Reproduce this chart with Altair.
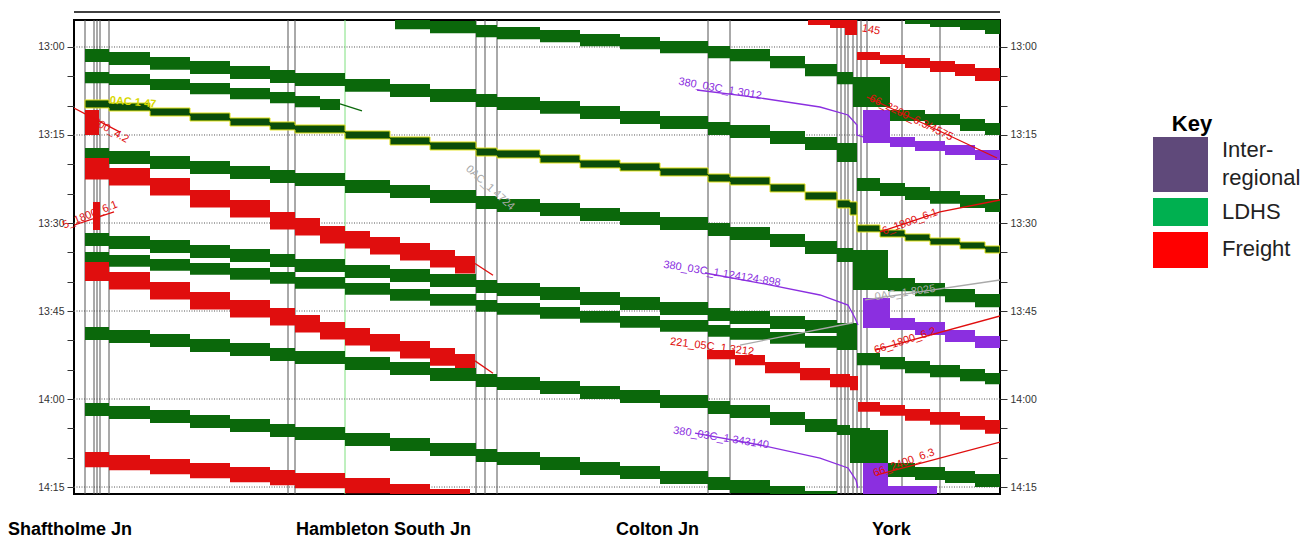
import altair as alt
import pandas as pd

# ---------------- scales (distance in km from the diagram's left edge, time in minutes after 13:00)
D_DOMAIN = [0.0, 92.6]
T_DOMAIN = [-4.6, 76.19]
W, H = 926, 474

# ---------------- categories / colours
CATS = ["Inter-regional", "LDHS", "Freight", "Path", "Note"]
MARK_COLORS = ["#8b2fe0", "#0b680b", "#e00e0e", "#a9a9a9", "#d8d800"]
KEY_LABELS = ["Inter-regional", "LDHS", "Freight"]
KEY_COLORS = ["#5f497a", "#00b050", "#ff0000"]

# ---------------- time axis
TICK_MINUTES = [0, 5, 10, 15, 20, 25, 30, 35, 40, 45, 50, 55, 60, 65, 70, 75]
GRID_MINUTES = [0, 15, 30, 45, 60, 75]

# ---------------- timing-point lines (km)
TIMING_LINES_KM = [1.1, 2.0, 2.3, 2.6, 3.5, 21.4, 22.1, 40.2, 41.1, 42.3, 63.4, 65.6,
                   76.3, 76.7, 77.1, 77.4, 77.9, 78.3, 78.7, 79.3, 82.8, 86.6]
SIGNAL_LINE_KM = [27.1]

# ---------------- stations
STATIONS = ["Shaftholme Jn", "Hambleton South Jn", "Colton Jn", "York"]
STATION_LABEL_KM = [-6.6, 22.2, 54.2, 79.8]
STATION_LABEL_T = 82.35

# ---------------- train blocking bands: (km, start of occupation, end of occupation)
G_TOP = [(83.1, -6.31, -3.92), (85.6, -5.80, -3.41), (88.6, -5.11, -2.90), (91.1, -4.60, -2.22), (92.6, -4.60, -2.22)]
G0 = [(32.1, -5.11, -3.01), (35.6, -4.43, -2.33), (40.2, -3.75, -1.65), (42.3, -3.41, -1.31),
      (46.6, -2.90, -0.80), (50.6, -2.22, -0.12), (54.6, -1.70, 0.40), (58.6, -1.02, 1.08),
      (63.4, -0.17, 1.93), (65.6, 0.34, 2.44), (69.6, 1.53, 3.63), (73.1, 2.90, 5.00),
      (76.3, 4.26, 6.36), (77.9, 5.11, 10.23), (81.6, 10.74, 12.61), (85.1, 11.42, 13.30),
      (88.6, 12.27, 14.32), (91.1, 12.95, 15.00), (92.6, 12.95, 15.00)]
R0 = [(73.4, -5.11, -3.75), (75.6, -4.77, -3.24), (77.1, -4.60, -2.05), (78.3, 0.85, 2.22),
      (80.6, 1.36, 2.90), (83.1, 1.87, 3.58), (85.6, 2.39, 4.26), (88.1, 2.90, 4.94),
      (90.1, 3.58, 5.79), (92.6, 3.58, 5.79)]
G1 = [(1.1, 0.34, 2.54), (3.5, 0.85, 3.05), (7.6, 1.70, 3.90), (11.6, 2.39, 4.59), (15.6, 3.24, 5.44),
      (19.6, 3.92, 6.12), (22.1, 4.43, 6.63), (27.1, 5.45, 7.65), (31.6, 6.31, 8.51), (35.6, 7.16, 9.36),
      (40.2, 8.01, 10.21), (42.3, 8.52, 10.72), (46.6, 9.20, 11.40), (50.6, 10.06, 12.26),
      (54.6, 10.91, 13.11), (58.6, 11.76, 13.96), (63.4, 12.78, 14.98), (65.6, 13.30, 15.50),
      (69.6, 14.32, 16.52), (73.1, 15.34, 17.54), (76.3, 16.36, 19.60), (78.3, 22.33, 24.53),
      (80.6, 23.18, 25.38), (83.1, 23.86, 26.06), (85.6, 24.54, 26.74), (88.6, 25.23, 27.43),
      (91.1, 25.91, 28.11), (92.6, 25.91, 28.11)]
G2 = [(1.1, 4.26, 6.16), (3.5, 4.60, 6.50), (7.6, 5.45, 7.35), (11.6, 6.14, 8.04), (15.6, 6.99, 8.89),
      (19.6, 7.67, 9.57), (22.1, 8.35, 10.25), (24.6, 8.86, 10.76), (26.6, 8.86, 10.76)]
G3 = [(1.1, 9.03, 10.39), (3.5, 9.55, 10.91), (7.6, 10.40, 11.76), (11.6, 11.25, 12.61),
      (15.6, 12.10, 13.46), (19.6, 12.78, 14.14), (22.1, 13.30, 14.66), (27.1, 14.32, 15.68),
      (31.6, 15.34, 16.70), (35.6, 16.19, 17.55), (40.2, 17.22, 18.58), (42.3, 17.56, 18.92),
      (46.6, 18.41, 19.77), (50.6, 19.26, 20.62), (54.6, 19.77, 21.13), (58.6, 20.62, 21.98),
      (63.4, 21.65, 23.01), (65.6, 22.16, 23.52), (69.6, 23.35, 24.71), (73.1, 24.71, 26.07),
      (76.3, 26.08, 27.44), (77.6, 26.40, 28.64), (78.3, 30.34, 31.53), (80.6, 31.19, 32.39),
      (83.1, 31.87, 33.07), (85.6, 32.56, 33.75), (88.6, 33.24, 34.43), (91.1, 33.92, 35.11),
      (92.6, 33.92, 35.11)]
R1 = [(1.1, 10.74, 15.00), (2.5, 10.74, 15.00)]
G4 = [(1.1, 17.22, 19.42), (3.5, 17.73, 19.93), (7.6, 18.58, 20.78), (11.6, 19.43, 21.63),
      (15.6, 20.28, 22.48), (19.6, 20.97, 23.17), (22.1, 21.48, 23.68), (27.1, 22.67, 24.87),
      (31.6, 23.52, 25.72), (35.6, 24.37, 26.57), (40.2, 25.40, 27.60), (42.3, 25.91, 28.11),
      (46.6, 26.59, 28.79), (50.6, 27.44, 29.64), (54.6, 28.12, 30.32), (58.6, 28.98, 31.18),
      (63.4, 30.00, 32.20), (65.6, 30.68, 32.88), (69.6, 31.87, 34.07), (73.1, 33.07, 35.27),
      (76.3, 34.26, 36.65), (77.9, 34.60, 41.42), (81.4, 39.37, 41.62), (84.1, 40.23, 42.47),
      (87.1, 41.25, 43.49), (90.1, 42.10, 44.35), (92.6, 42.10, 44.35)]
R2 = [(1.1, 18.92, 22.60), (3.5, 20.62, 23.62), (7.6, 22.33, 25.33), (11.6, 24.37, 27.37),
      (15.6, 26.08, 29.08), (19.6, 28.12, 31.12), (22.1, 29.15, 32.15), (24.6, 30.51, 33.51),
      (27.1, 31.36, 34.36), (29.6, 32.39, 35.39), (32.6, 33.41, 36.41), (35.6, 34.60, 37.60),
      (38.1, 35.62, 38.62), (40.1, 35.62, 38.62)]
R3 = [(1.9, 26.42, 31.19), (2.6, 26.42, 31.19)]
G5 = [(1.1, 31.70, 33.90), (3.5, 32.22, 34.42), (7.6, 32.90, 35.10), (11.6, 33.75, 35.95),
      (15.6, 34.43, 36.63), (19.6, 35.28, 37.48), (22.1, 36.14, 38.34), (27.1, 37.16, 39.36),
      (31.6, 37.84, 40.04), (35.6, 38.69, 40.89), (40.2, 39.71, 41.91), (42.3, 40.23, 42.43),
      (46.6, 40.91, 43.11), (50.6, 41.76, 43.96), (54.6, 42.61, 44.81), (58.6, 43.46, 45.66),
      (63.4, 44.49, 46.69), (65.6, 45.00, 47.20), (69.6, 45.85, 48.05), (73.1, 46.53, 48.73),
      (76.3, 47.04, 50.79), (78.3, 52.16, 54.23), (80.6, 52.84, 54.91), (83.1, 53.52, 55.60),
      (85.6, 54.20, 56.28), (88.6, 54.88, 56.96), (91.1, 55.57, 57.47), (92.6, 55.57, 57.47)]
G6 = [(1.1, 34.94, 36.94), (3.5, 35.45, 37.45), (7.6, 36.14, 38.14), (11.6, 36.82, 38.82),
      (15.6, 37.67, 39.67), (19.6, 38.35, 40.35), (22.1, 39.20, 41.20), (27.1, 40.23, 42.23),
      (31.6, 41.25, 43.25), (35.6, 42.10, 44.10), (40.2, 43.12, 45.12), (42.3, 43.64, 45.64),
      (46.6, 44.32, 46.32), (50.6, 45.00, 47.00), (54.6, 45.85, 47.85), (58.6, 46.53, 48.53),
      (63.4, 47.39, 49.39), (65.6, 47.90, 49.90), (69.6, 48.58, 50.58), (73.1, 49.26, 51.26),
      (76.3, 49.94, 51.65), (78.3, 49.94, 51.65)]
R4 = [(1.1, 36.65, 39.90), (3.5, 38.35, 41.35), (7.6, 40.06, 43.06), (11.6, 41.76, 44.76),
      (15.6, 43.12, 46.12), (19.6, 44.49, 47.49), (22.1, 45.68, 48.68), (24.6, 46.87, 49.87),
      (27.1, 47.90, 50.90), (29.6, 48.92, 51.92), (32.6, 50.11, 53.11), (35.6, 51.31, 54.31),
      (38.1, 52.33, 55.33), (40.1, 52.33, 55.33)]
G7 = [(1.1, 47.73, 49.93), (3.5, 48.24, 50.44), (7.6, 48.92, 51.12), (11.6, 49.77, 51.97),
      (15.6, 50.45, 52.65), (19.6, 51.31, 53.51), (22.1, 51.82, 54.02), (27.1, 52.84, 55.04),
      (31.6, 53.69, 55.89), (35.6, 54.71, 56.91), (40.2, 55.74, 57.94), (42.3, 56.25, 58.45),
      (46.6, 56.93, 59.13), (50.6, 57.78, 59.98), (54.6, 58.47, 60.67), (58.6, 59.32, 61.52),
      (63.4, 60.34, 62.54), (65.6, 61.02, 63.22), (69.6, 62.21, 64.41), (73.1, 63.41, 65.61),
      (76.3, 64.43, 66.14), (77.6, 64.94, 70.91), (79.6, 65.28, 72.95), (81.4, 70.91, 73.29),
      (84.1, 71.59, 73.81), (87.1, 72.27, 74.32), (90.1, 72.78, 75.00), (92.6, 72.78, 75.00)]
R5 = [(63.3, 51.65, 53.24), (66.1, 52.50, 54.26), (69.1, 53.69, 55.63), (72.6, 54.71, 56.82),
      (75.6, 55.74, 58.01), (77.6, 56.08, 58.52), (78.4, 60.51, 62.17), (80.6, 61.02, 62.86),
      (83.1, 61.70, 63.71), (85.6, 62.21, 64.39), (88.6, 62.89, 65.24), (91.1, 63.58, 65.93),
      (92.6, 63.58, 65.93)]
G8 = [(1.1, 60.68, 62.88), (3.5, 61.19, 63.39), (7.6, 61.87, 64.07), (11.6, 62.73, 64.93),
      (15.6, 63.41, 65.61), (19.6, 64.26, 66.46), (22.1, 64.77, 66.97), (27.1, 65.80, 68.00),
      (31.6, 66.65, 68.85), (35.6, 67.50, 69.70), (40.2, 68.52, 70.72), (42.3, 69.03, 71.23),
      (46.6, 69.89, 72.09), (50.6, 70.74, 72.94), (54.6, 71.42, 73.62), (58.6, 72.27, 74.47),
      (63.4, 73.29, 75.49), (65.6, 73.81, 76.01), (69.6, 74.83, 77.03), (73.1, 75.68, 77.88),
      (76.3, 75.68, 77.88)]
R6 = [(1.1, 69.03, 71.63), (3.5, 69.55, 72.15), (7.6, 70.23, 72.83), (11.6, 70.91, 73.51),
      (15.6, 71.59, 74.19), (19.6, 72.10, 74.70), (22.1, 72.61, 75.21), (27.1, 73.46, 76.06),
      (31.6, 74.49, 77.09), (35.6, 75.34, 77.94), (39.6, 76.19, 78.79), (41.0, 76.19, 78.79)]
P1 = [(78.9, 10.74, 16.36), (81.6, 15.34, 17.05), (84.1, 16.02, 17.73), (87.1, 16.70, 18.41),
      (90.1, 17.56, 19.26), (92.6, 17.56, 19.26)]
P2 = [(78.9, 42.78, 47.90), (81.6, 46.19, 48.24), (84.1, 46.87, 49.09), (87.1, 48.24, 50.28),
      (90.1, 49.26, 51.31), (92.6, 49.26, 51.31)]
P3 = [(78.9, 70.91, 77.20), (81.4, 74.83, 77.20), (86.3, 74.83, 77.20)]

BANDS = [("G_TOP", "LDHS", G_TOP), ("G0", "LDHS", G0), ("R0", "Freight", R0), ("G1", "LDHS", G1),
         ("G2", "LDHS", G2), ("R1", "Freight", R1), ("G4", "LDHS", G4), ("R2", "Freight", R2),
         ("R3", "Freight", R3), ("G5", "LDHS", G5), ("G6", "LDHS", G6), ("R4", "Freight", R4),
         ("G7", "LDHS", G7), ("R5", "Freight", R5), ("G8", "LDHS", G8), ("R6", "Freight", R6),
         ("P1", "Inter-regional", P1), ("P2", "Inter-regional", P2), ("P3", "Inter-regional", P3)]

# ---------------- thin path lines: (km, minutes)
P1_PATH = [(62.3, 7.33), (68.6, 8.69), (74.6, 10.23), (77.4, 11.59), (78.3, 13.30), (78.3, 15.00), (78.9, 15.34)]
P2_PATH = [(63.1, 38.52), (68.6, 40.23), (74.6, 42.27), (77.4, 43.98), (78.1, 46.19), (78.4, 47.39)]
P3_PATH = [(62.1, 65.80), (68.6, 67.84), (74.6, 70.06), (77.4, 71.76), (78.2, 73.81), (78.4, 75.17)]
G2_TAIL = [(26.6, 9.70), (28.8, 10.90)]
R2_TAIL = [(40.1, 36.90), (41.9, 38.90)]
R4_TAIL = [(40.1, 53.50), (41.9, 55.60)]
F_2200 = [(79.3, 8.52), (92.3, 18.92)]
F_1800A = [(80.6, 31.53), (86.6, 28.12), (92.6, 26.08)]
F_1800B = [(80.1, 51.65), (92.6, 45.85)]
F_2400 = [(80.3, 72.95), (92.6, 67.33)]
F_0042 = [(0.0, 10.40), (4.6, 14.50)]
F_0061 = [(-2.0, 31.50), (4.0, 28.10)]
X_8025 = [(79.1, 43.12), (92.6, 39.71)]
X_CROSS = [(66.6, 50.80), (77.9, 47.00)]

LINES = [("P1L", "Inter-regional", P1_PATH), ("P2L", "Inter-regional", P2_PATH), ("P3L", "Inter-regional", P3_PATH),
         ("G2T", "LDHS", G2_TAIL), ("R2T", "Freight", R2_TAIL), ("R4T", "Freight", R4_TAIL),
         ("F1", "Freight", F_2200), ("F2", "Freight", F_1800A), ("F3", "Freight", F_1800B),
         ("F4", "Freight", F_2400), ("F5", "Freight", F_0042), ("F6", "Freight", F_0061),
         ("X1", "Path", X_8025), ("X2", "Path", X_CROSS)]

# ---------------- path labels: (text, category, km, minutes, angle)
LABELS = [("380_03C_1 3012", "Inter-regional", 64.6, 7.16, 10),
          ("66_2200_6.3/4575", "Freight", 83.7, 12.10, 26),
          ("145", "Freight", 79.7, -2.90, 10),
          ("6_1800_6.1", "Freight", 83.6, 29.83, -20),
          ("380_03C_1 124124-898", "Inter-regional", 64.8, 38.69, 9),
          ("221_05C_1.3212", "Freight", 63.8, 51.14, 7),
          ("66_1800_6.2", "Freight", 83.1, 50.11, -18),
          ("380_03C_1 343140", "Inter-regional", 64.7, 66.65, 9),
          ("66_2400_6.3", "Freight", 83.0, 70.91, -20),
          ("1800_4.2", "Freight", 3.4, 13.98, 30),
          ("5_1800_6.1", "Freight", 1.6, 28.64, -22),
          ("0AC_1 4724", "Path", 41.6, 24.03, 42),
          ("0AC_1 8025", "Path", 83.1, 41.93, -8)]
NOTE_LABELS = [("0AC 1 47", "Note", 5.9, 9.45, 5)]

# ---------------- key (legend) text
KEY_TITLE = "Key"
KEY_TEXT = [["Inter-", "regional"], ["LDHS"], ["Freight"]]

# ---------------- frames
def band_frame(specs):
    rows = []
    for name, cat, pts in specs:
        for k, a, b in pts:
            rows.append(dict(train=name, cat=cat, km=k, top=a, bot=b))
    return pd.DataFrame(rows)

def line_frame(specs):
    rows = []
    for name, cat, pts in specs:
        for i, (k, t) in enumerate(pts):
            rows.append(dict(line=name, cat=cat, km=k, t=t, idx=i))
    return pd.DataFrame(rows)

bands_df = band_frame(BANDS)
g3_df = band_frame([("G3", "LDHS", G3)])
lines_df = line_frame(LINES)
labels_df = pd.DataFrame(LABELS, columns=["text", "cat", "km", "t", "angle"])
notes_df = pd.DataFrame(NOTE_LABELS, columns=["text", "cat", "km", "t", "angle"])
stations_df = pd.DataFrame({"name": STATIONS, "km": STATION_LABEL_KM, "t": [STATION_LABEL_T] * 4})
ticks_df = pd.DataFrame({"t": TICK_MINUTES})
grid_df = pd.DataFrame({"t": GRID_MINUTES})
vlines_df = pd.DataFrame({"km": TIMING_LINES_KM})
sig_df = pd.DataFrame({"km": SIGNAL_LINE_KM})
one_df = pd.DataFrame({"a": [0]})

xscale = alt.Scale(domain=D_DOMAIN, nice=False, zero=False)
yscale = alt.Scale(domain=T_DOMAIN, nice=False, zero=False, reverse=True)
cscale = alt.Scale(domain=CATS, range=MARK_COLORS)

LABEL_EXPR = ("datum.value % 15 === 0 ? (13 + floor(datum.value / 60)) + ':' + "
              "(datum.value % 60 < 10 ? '0' : '') + (datum.value % 60) : ''")

def time_axis(orient):
    return alt.Axis(orient=orient, values=TICK_MINUTES, labelExpr=LABEL_EXPR, grid=False, domain=False,
                    tickSize=7, tickColor="#333", tickWidth=1, labelFontSize=10.5, labelColor="#333",
                    labelFont="Liberation Sans", labelPadding=3, title=None)

X = alt.X("km:Q", scale=xscale, axis=None)

left_axis = alt.Chart(ticks_df).mark_rule(opacity=0).encode(y=alt.Y("t:Q", scale=yscale, axis=time_axis("left")))
right_axis = alt.Chart(ticks_df).mark_rule(opacity=0).encode(y=alt.Y("t:Q", scale=yscale, axis=time_axis("right")))

grid = alt.Chart(grid_df).mark_rule(color="#555", strokeDash=[1, 1.5], strokeWidth=1).encode(
    y=alt.Y("t:Q", scale=yscale, axis=None))

vlines = alt.Chart(vlines_df).mark_rule(color="#555", strokeWidth=1).encode(x=X)
sig = alt.Chart(sig_df).mark_rule(color="#7ee07e", strokeWidth=1).encode(x=X)

bands = alt.Chart(bands_df).mark_area(interpolate="step-after", clip=True).encode(
    x=X,
    y=alt.Y("top:Q", scale=yscale, axis=None),
    y2="bot:Q",
    color=alt.Color("cat:N", scale=cscale, legend=None),
    detail="train:N",
)

g3 = alt.Chart(g3_df).mark_area(interpolate="step-after", clip=True, color="#0a4d0a",
                                stroke="#e2e21a", strokeWidth=1).encode(
    x=X, y=alt.Y("top:Q", scale=yscale, axis=None), y2="bot:Q", detail="train:N")

lines = alt.Chart(lines_df).mark_line(clip=True, strokeWidth=1.3).encode(
    x=X,
    y=alt.Y("t:Q", scale=yscale, axis=None),
    color=alt.Color("cat:N", scale=cscale, legend=None),
    detail="line:N",
    order="idx:Q",
)

labels = alt.Chart(labels_df).mark_text(font="Liberation Sans", fontSize=11, align="center",
                                        baseline="middle").encode(
    x=X,
    y=alt.Y("t:Q", scale=yscale, axis=None),
    text="text:N",
    angle=alt.Angle("angle:Q", scale=None),
    color=alt.Color("cat:N", scale=cscale, legend=None),
)

notes = alt.Chart(notes_df).mark_text(font="Liberation Sans", fontSize=11, fontWeight="bold",
                                      align="center", baseline="middle").encode(
    x=X,
    y=alt.Y("t:Q", scale=yscale, axis=None),
    text="text:N",
    angle=alt.Angle("angle:Q", scale=None),
    color=alt.Color("cat:N", scale=cscale, legend=None),
)

stations = alt.Chart(stations_df).mark_text(font="Liberation Sans", fontSize=18, fontWeight="bold",
                                            align="left", baseline="middle", color="black").encode(
    x=X, y=alt.Y("t:Q", scale=yscale, axis=None), text="name:N")

top_rule = alt.Chart(one_df).mark_rule(color="black", strokeWidth=1.5).encode(
    x=alt.value(0), x2=alt.value(W), y=alt.value(-8))

# ---------------- key (legend) beside the plot
SWATCH_X = (1079, 1134)
SWATCH_Y = [(117, 172), (178, 206), (212, 248)]
LABEL_X = 1148
LABEL_Y = [[130, 158], [192], [229]]

key_layers = [alt.Chart(one_df).mark_text(font="Liberation Sans", fontSize=22, fontWeight="bold",
                                          color="black", align="center", baseline="middle").encode(
    x=alt.value(1118), y=alt.value(104), text=alt.value(KEY_TITLE))]
for (y0, y1), col, texts, ys in zip(SWATCH_Y, KEY_COLORS, KEY_TEXT, LABEL_Y):
    key_layers.append(alt.Chart(one_df).mark_rect(color=col).encode(
        x=alt.value(SWATCH_X[0]), x2=alt.value(SWATCH_X[1]), y=alt.value(y0), y2=alt.value(y1)))
    for txt, ty in zip(texts, ys):
        key_layers.append(alt.Chart(one_df).mark_text(font="Liberation Sans", fontSize=22, color="#222",
                                                      align="left", baseline="middle").encode(
            x=alt.value(LABEL_X), y=alt.value(ty), text=alt.value(txt)))

chart = alt.layer(
    grid, vlines, sig, bands, g3, lines, labels, notes, stations, top_rule, left_axis, right_axis, *key_layers
).resolve_axis(y="independent").properties(
    width=W, height=H,
    padding={"left": 66, "top": 12, "right": 300, "bottom": 44},
    autosize=alt.AutoSizeParams(type="none"),
).configure_view(stroke="black", strokeWidth=2)

chart.save("out.html", embed_options={"renderer": "svg", "actions": False})
